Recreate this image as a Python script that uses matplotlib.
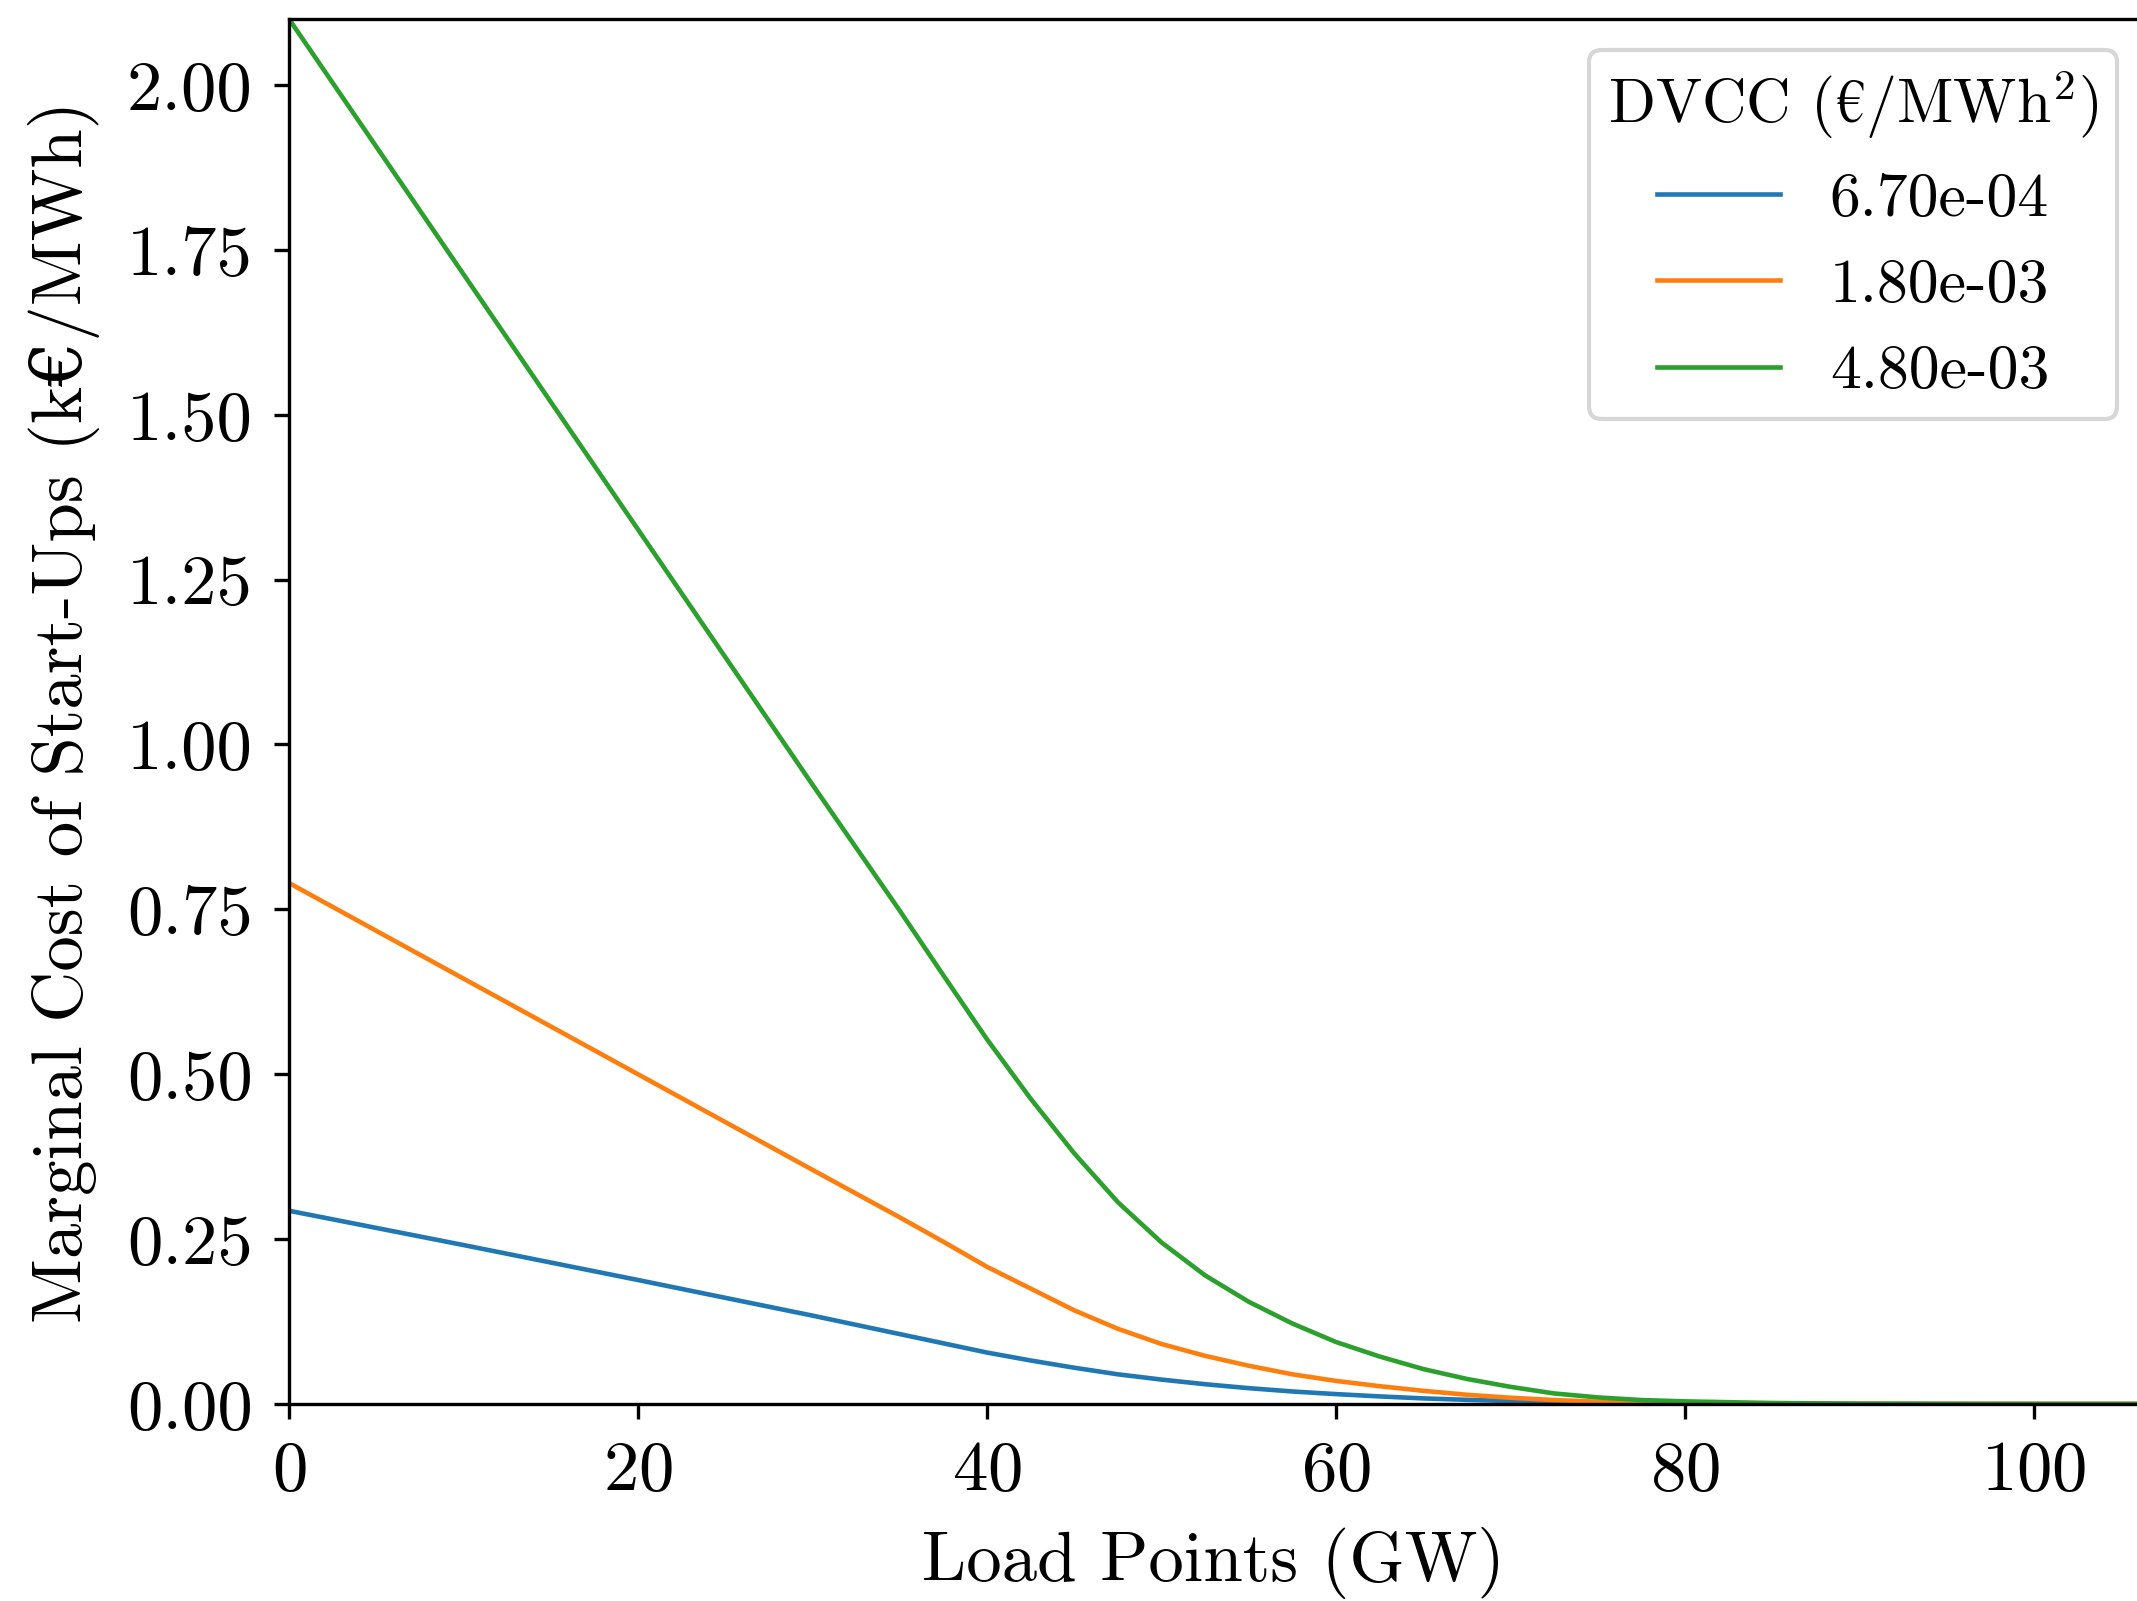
import numpy as np
import matplotlib
matplotlib.use("Agg")
from matplotlib import pyplot as plt

load = [0, 10, 20, 30, 35, 37.5, 40, 42.5, 45, 47.5, 50, 52.5, 55, 57.5, 60, 62.5,
        65, 67.5, 70, 72.5, 75, 77.5, 80, 85, 90, 95, 100, 106]

# marginal cost of start-ups (k€/MWh), one list per DVCC value
mc_670e4 = [0.293, 0.241, 0.188, 0.134, 0.106, 0.092, 0.078, 0.066, 0.055, 0.045,
            0.037, 0.030, 0.024, 0.019, 0.015, 0.0115, 0.0085, 0.0063, 0.0045,
            0.003, 0.002, 0.0013, 0.0008, 0.0003, 0.0001, 0.0, 0.0, 0.0]
mc_180e3 = [0.790, 0.645, 0.500, 0.355, 0.283, 0.246, 0.208, 0.175, 0.142, 0.114,
            0.091, 0.073, 0.058, 0.045, 0.035, 0.027, 0.020, 0.014, 0.0095,
            0.006, 0.0035, 0.002, 0.0012, 0.0004, 0.0001, 0.0, 0.0, 0.0]
mc_480e3 = [2.100, 1.713, 1.326, 0.939, 0.748, 0.650, 0.553, 0.463, 0.380, 0.306,
            0.245, 0.195, 0.155, 0.122, 0.094, 0.072, 0.053, 0.038, 0.026,
            0.016, 0.010, 0.006, 0.004, 0.0015, 0.0005, 0.0002, 0.0, 0.0]

dvcc_labels = ['6.70e-04', '1.80e-03', '4.80e-03']

plt.rcParams['font.family'] = ['cmr10', 'DejaVu Serif']
plt.rcParams['mathtext.fontset'] = 'cm'
plt.rcParams['axes.formatter.use_mathtext'] = True
plt.rcParams['axes.unicode_minus'] = False
plt.rcParams['font.size'] = 17
plt.rcParams['xtick.major.pad'] = 5.2
plt.rcParams['ytick.major.pad'] = 5.2

W, H = 2137, 1601
fig = plt.figure(figsize=(W / 300, H / 300), dpi=300)
left, bottom, top = 289 / W, (H - 1404) / H, (H - 19) / H
xmax = 106.0
px_per_unit = 17.45
ax = fig.add_axes([left, bottom, xmax * px_per_unit / W, top - bottom])

for vals, lab in zip([mc_670e4, mc_180e3, mc_480e3], dvcc_labels):
    ax.plot(load, vals, lw=1.1, label=lab)

ax.set_xlim(0, xmax)
ax.set_ylim(0, 2.10)
ax.set_xticks([0, 20, 40, 60, 80, 100])
ax.set_yticks(np.arange(0, 2.01, 0.25))
ax.yaxis.set_major_formatter(matplotlib.ticker.FormatStrFormatter('%.2f'))
ax.set_xlabel('Load Points (GW)', labelpad=5.5)
ax.set_ylabel('Marginal Cost of Start-Ups (k€/MWh)', labelpad=6.5)

ax.legend(title='DVCC ($€$/MWh$^2$)', loc='upper right', fontsize=14.8,
          title_fontsize=14.8, borderpad=0.3,
          bbox_to_anchor=(2117 / W, (H - 50) / H), bbox_transform=fig.transFigure,
          borderaxespad=0)

plt.savefig('out.png', dpi=300)
